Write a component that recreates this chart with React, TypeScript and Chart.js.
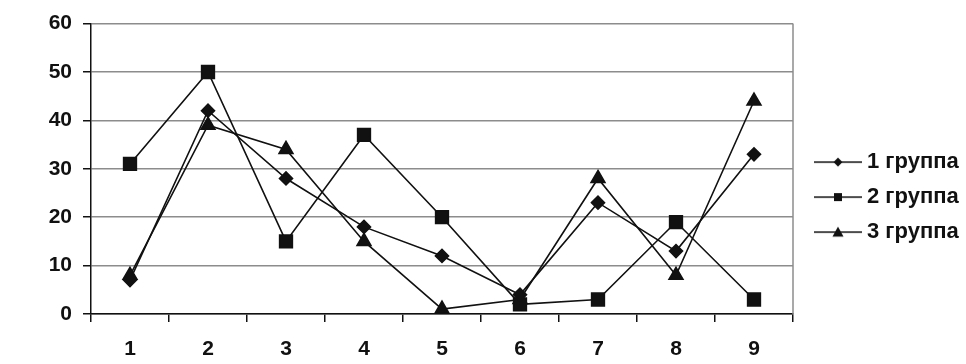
import React, { useEffect, useRef } from "react";
import { Chart, registerables } from "chart.js";

Chart.register(...registerables);

const categories = ["1", "2", "3", "4", "5", "6", "7", "8", "9"];
const group1 = [7, 42, 28, 18, 12, 4, 23, 13, 33];
const group2 = [31, 50, 15, 37, 20, 2, 3, 19, 3];
const group3 = [8, 39, 34, 15, 1, 3, 28, 8, 44];
const seriesNames = ["1 группа", "2 группа", "3 группа"];
const yTicks = [0, 10, 20, 30, 40, 50, 60];

const FONT = "'Liberation Sans', Arial, sans-serif";

function legendIcon(kind: string): HTMLCanvasElement {
  const c = document.createElement("canvas");
  c.width = 62;
  c.height = 14;
  const ctx = c.getContext("2d")!;
  ctx.strokeStyle = "#111";
  ctx.fillStyle = "#111";
  ctx.lineWidth = 1.5;
  ctx.beginPath();
  ctx.moveTo(14, 7);
  ctx.lineTo(62, 7);
  ctx.stroke();
  const cx = 38;
  ctx.beginPath();
  if (kind === "diamond") {
    ctx.moveTo(cx, 2.5);
    ctx.lineTo(cx + 4.5, 7);
    ctx.lineTo(cx, 11.5);
    ctx.lineTo(cx - 4.5, 7);
  } else if (kind === "square") {
    ctx.rect(cx - 4, 3, 8, 8);
  } else {
    ctx.moveTo(cx, 1.5);
    ctx.lineTo(cx + 5.5, 11.5);
    ctx.lineTo(cx - 5.5, 11.5);
  }
  ctx.closePath();
  ctx.fill();
  return c;
}

export default function App() {
  const ref = useRef<HTMLCanvasElement | null>(null);
  useEffect(() => {
    if (!ref.current) return;
    const icons = [legendIcon("diamond"), legendIcon("square"), legendIcon("triangle")];
    const borderPlugin = {
      id: "rightBorder",
      beforeDatasetsDraw(chart: any) {
        const { ctx, chartArea } = chart;
        ctx.save();
        ctx.strokeStyle = "#8c8c8c";
        ctx.lineWidth = 1.5;
        ctx.beginPath();
        ctx.moveTo(chartArea.right, chartArea.top);
        ctx.lineTo(chartArea.right, chartArea.bottom);
        ctx.stroke();
        ctx.restore();
      },
    };
    const common = {
      borderColor: "#111",
      backgroundColor: "#111",
      pointBackgroundColor: "#111",
      pointBorderColor: "#111",
      borderWidth: 1.6,
      fill: false,
      tension: 0,
    };
    const chart = new Chart(ref.current, {
      type: "line",
      data: {
        labels: categories,
        datasets: [
          { ...common, label: seriesNames[0], data: group1, pointStyle: "rectRot", pointRadius: 6.5 },
          { ...common, label: seriesNames[1], data: group2, pointStyle: "rect", pointRadius: 9 },
          { ...common, label: seriesNames[2], data: group3, pointStyle: "triangle", pointRadius: 8 },
        ],
      },
      options: {
        animation: false,
        responsive: false,
        maintainAspectRatio: false,
        layout: { padding: { left: 0, right: 0, top: 23, bottom: 0 } },
        plugins: {
          tooltip: { enabled: false },
          legend: {
            position: "right",
            align: "center",
            maxWidth: 173,
            title: { display: true, text: " ", padding: 0, font: { size: 6 } },
            labels: {
              color: "#111",
              font: { family: FONT, size: 22, weight: "bold" },
              usePointStyle: true,
              pointStyleWidth: 50,
              boxHeight: 14,
              padding: 13,
              generateLabels: () =>
                seriesNames.map((n, i) => ({
                  text: n,
                  pointStyle: icons[i],
                  fillStyle: "#111",
                  strokeStyle: "#111",
                  lineWidth: 0,
                  hidden: false,
                  datasetIndex: i,
                  fontColor: "#111",
                })),
            },
          },
        },
        scales: {
          x: {
            offset: true,
            afterFit: (scale: any) => {
              scale.height = 50;
            },
            grid: {
              offset: true,
              drawOnChartArea: false,
              drawTicks: true,
              tickLength: 8,
              color: "#111",
              lineWidth: 1.5,
            },
            border: { color: "#111", width: 1.5 },
            ticks: { color: "#111", font: { family: FONT, size: 21, weight: "bold" }, padding: 15 },
          },
          y: {
            min: 0,
            max: 60,
            afterFit: (scale: any) => {
              scale.width = 91;
            },
            afterBuildTicks: (axis: any) => {
              axis.ticks = yTicks.map((v) => ({ value: v }));
            },
            grid: {
              color: "#8c8c8c",
              lineWidth: 1.5,
              drawTicks: true,
              tickLength: 8,
              tickColor: "#111",
            },
            border: { color: "#111", width: 1.5 },
            ticks: { color: "#111", font: { family: FONT, size: 21, weight: "bold" }, padding: 11 },
          },
        },
      },
      plugins: [borderPlugin],
    });
    return () => chart.destroy();
  }, []);
  return (
    <div style={{ position: "fixed", left: 0, top: 0, width: 966, height: 364, background: "#fff" }}>
      <canvas ref={ref} width={966} height={364} style={{ width: 966, height: 364 }} />
    </div>
  );
}
